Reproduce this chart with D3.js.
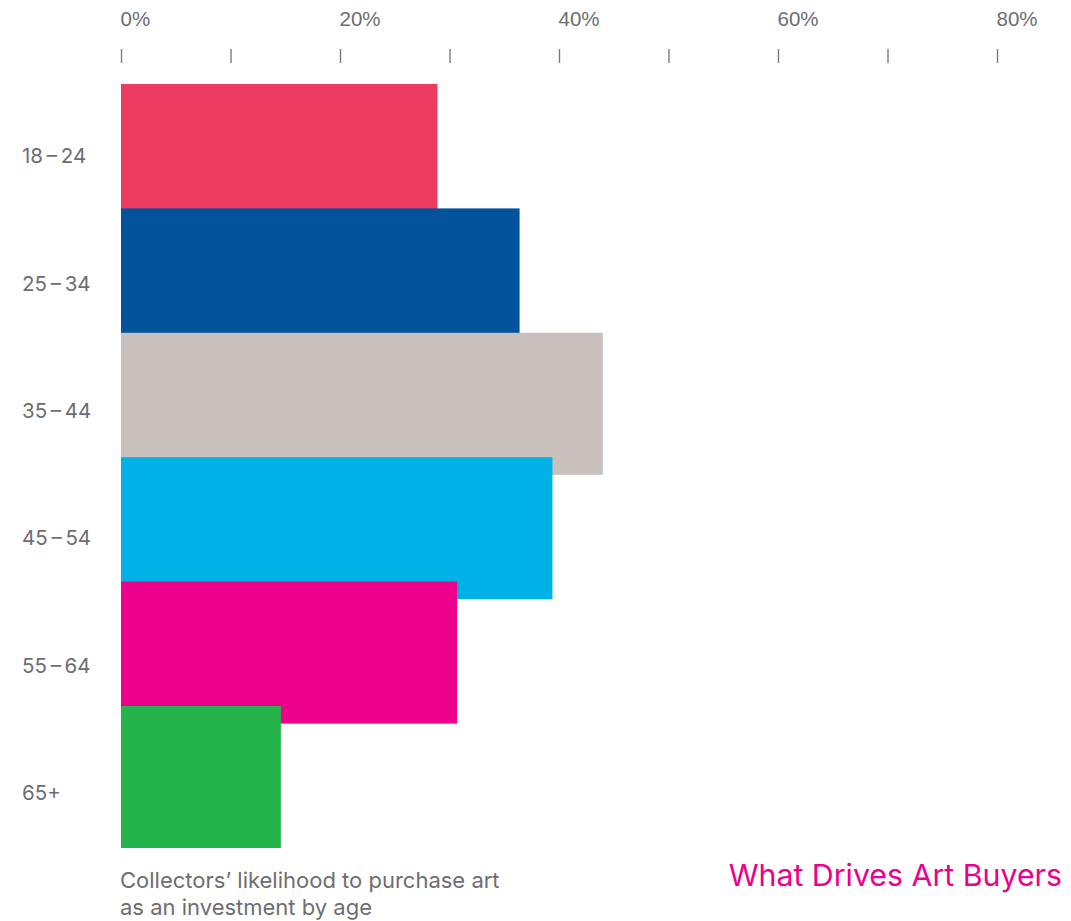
<!DOCTYPE html>
<html>
<head>
<meta charset="utf-8">
<script src="https://cdn.jsdelivr.net/npm/d3@7"></script>
<style>
  body { margin: 0; background: #fff; }
  svg { display: block; font-family: Inter, "Noto Sans", sans-serif; }
  .axis text { fill: #6d6e71; font-size: 20.5px; }
  .axis line { stroke: #7a7b7e; stroke-width: 1.4; }
</style>
</head>
<body>
<div id="chart"></div>
<script>
const ages = ["18\u2009\u2013\u200924", "25\u2009\u2013\u200934", "35\u2009\u2013\u200944", "45\u2009\u2013\u200954", "55\u2009\u2013\u200964", "65+"];
const values = [28.9, 36.4, 44.0, 39.4, 30.7, 14.6];
const colors = ["#ee3b62", "#02529c", "#c8c0bd", "#00b1e8", "#ec008c", "#25b34b"];
const tickVals = [0, 10, 20, 30, 40, 50, 60, 70, 80];

const width = 1071, height = 921;

const svg = d3.select("#chart").append("svg")
  .attr("width", width)
  .attr("height", height);

// x: 0% at 121, 80% at 997
const x = d3.scaleLinear().domain([0, 80]).range([121, 997]);

// bars overlap: each one is taller than its step
const y = d3.scaleBand().domain(ages).range([84, 84 + 6 * 124.4]).paddingInner(0);
const barH = 142;

// row labels sit on their own spacing
const yLab = d3.scalePoint().domain(ages).range([156, 793]);

// axis on top
const axis = svg.append("g")
  .attr("class", "axis")
  .attr("transform", "translate(0,63)")
  .call(d3.axisTop(x)
    .tickValues(tickVals)
    .tickSize(14)
    .tickPadding(23)
    .tickFormat(d => d % 20 === 0 ? d + "%" : ""));

axis.select(".domain").remove();
axis.selectAll("text").attr("text-anchor", "start").attr("dx", -1);

// bars
svg.append("g")
  .selectAll("rect")
  .data(values)
  .join("rect")
  .attr("x", x(0))
  .attr("y", (d, i) => y(ages[i]))
  .attr("width", d => x(d) - x(0))
  .attr("height", barH)
  .attr("fill", (d, i) => colors[i]);

// age labels
svg.append("g")
  .selectAll("text")
  .data(ages)
  .join("text")
  .attr("x", 22)
  .attr("y", d => yLab(d))
  .attr("dy", "0.35em")
  .attr("fill", "#6d6e71")
  .style("font-size", "20.5px")
  .text(d => d);

// caption
const cap = svg.append("text")
  .attr("x", 120)
  .attr("y", 888)
  .attr("fill", "#6d6e71")
  .style("font-size", "22px");
cap.append("tspan").attr("x", 120).text("Collectors\u2019 likelihood to purchase art");
cap.append("tspan").attr("x", 120).attr("dy", 27).text("as an investment by age");

// title
svg.append("text")
  .attr("x", 1062)
  .attr("y", 886)
  .attr("text-anchor", "end")
  .attr("fill", "#ec008c")
  .style("font-size", "30.3px")
  .text("What Drives Art Buyers");
</script>
</body>
</html>
